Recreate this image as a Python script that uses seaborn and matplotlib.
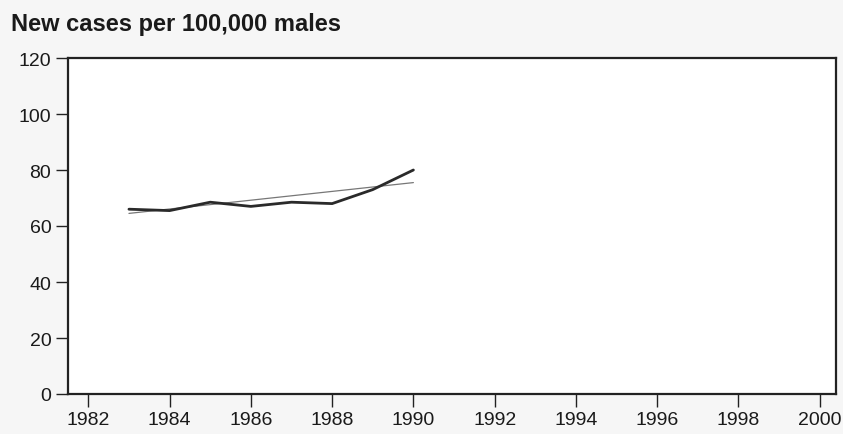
import matplotlib
matplotlib.use("Agg")
import matplotlib.pyplot as plt
import seaborn as sns
import pandas as pd

years = [1983, 1984, 1985, 1986, 1987, 1988, 1989, 1990]
cases = [66, 65.5, 68.5, 67, 68.5, 68, 73, 80]
trend_years = [1983, 1990]
trend_vals = [64.5, 75.5]

x_ticks = list(range(1982, 2001, 2))
y_ticks = list(range(0, 121, 20))

sns.set_style("white")
plt.rcParams['font.family'] = ['Liberation Sans', 'DejaVu Sans']

fig = plt.figure(figsize=(8.43, 4.35), dpi=100)
fig.patch.set_facecolor('#f6f6f6')
ax = fig.add_axes([68 / 843, 40 / 435, 768 / 843, 336 / 435])
ax.set_facecolor('white')

df = pd.DataFrame({'year': years, 'cases': cases})
tr = pd.DataFrame({'year': trend_years, 'cases': trend_vals})
sns.lineplot(data=tr, x='year', y='cases', ax=ax, color='#777777', linewidth=0.9)
sns.lineplot(data=df, x='year', y='cases', ax=ax, color='#2a2a2a', linewidth=2.0)

ax.set_xlim(1981.5, 2000.4)
ax.set_ylim(0, 120)
ax.set_xticks(x_ticks)
ax.set_yticks(y_ticks)
ax.tick_params(axis='both', bottom=True, left=True, direction='out', length=9,
               width=1.0, color='#222222', labelsize=14, labelcolor='#1a1a1a', pad=3)
for s in ax.spines.values():
    s.set_linewidth(1.6)
    s.set_color('#222222')
ax.set_xlabel('')
ax.set_ylabel('')

fig.text(11 / 843, 1 - 24 / 435, 'New cases per 100,000 males', fontsize=17,
         fontweight='bold', color='#1a1a1a', va='center', ha='left')

plt.savefig('out.png', dpi=100, facecolor=fig.get_facecolor())
